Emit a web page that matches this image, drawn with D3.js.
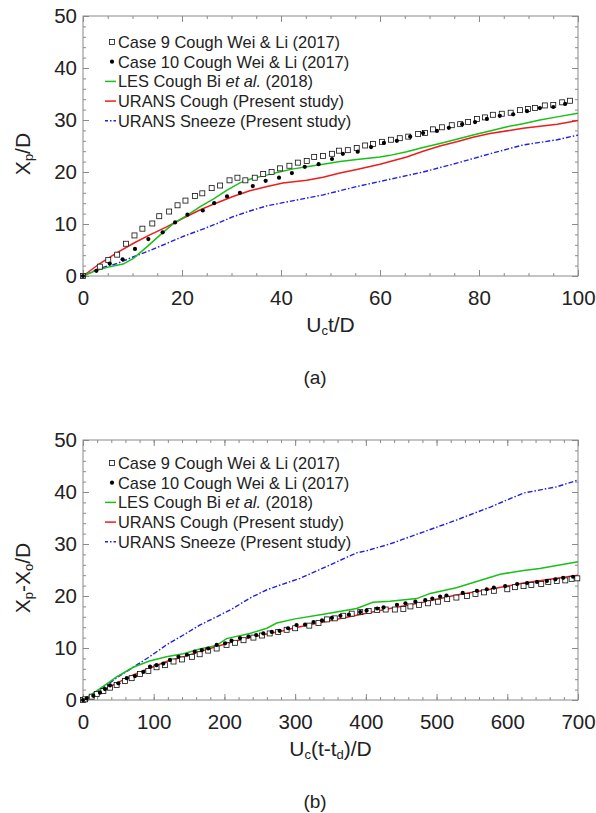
<!DOCTYPE html>
<html>
<head>
<meta charset="utf-8">
<script src="https://cdn.jsdelivr.net/npm/d3@7"></script>
<style>
  body { margin: 0; background: #fff; }
  svg { display: block; }
  text { font-family: 'Liberation Sans', Arial, sans-serif; fill: #222; }
</style>
</head>
<body>
<svg id="fig" width="596" height="813"></svg>
<script>
// ---- data ----
// (a) penetration distance vs Uc t / D
const caseA9 = [[0,0],[3.4,1.8],[5.1,3.1],[6.9,4.1],[8.7,6.2],[10.4,7.8],[12.0,9.1],[14.0,10.1],[15.4,11.5],[17.4,12.4],[19.1,13.6],[20.7,14.5],[22.6,15.4],[24.1,15.9],[26.0,16.9],[27.7,17.4],[29.6,18.4],[31.2,18.9],[32.8,18.4],[34.7,18.9],[36.4,19.6],[38.1,20.0],[39.8,20.7],[41.7,21.2],[43.4,21.8],[45.2,22.1],[46.7,22.9],[48.5,23.1],[50.3,23.5],[51.7,24.1],[53.5,24.2],[55.3,24.6],[57.0,25.1],[58.6,25.4],[60.4,25.8],[62.2,26.2],[64.0,26.5],[65.7,26.8],[67.7,27.3],[69.1,27.5],[70.7,28.2],[72.5,28.6],[74.5,29.0],[76.2,29.2],[77.8,29.6],[79.6,30.2],[81.2,30.5],[82.8,31.0],[84.6,31.2],[86.4,31.4],[88.3,31.9],[89.9,32.1],[91.3,32.3],[93.3,32.8],[95.0,32.9],[96.8,33.4],[98.4,33.7]];
const caseA10 = [[0,0],[2.7,1.0],[5.4,2.4],[8.0,3.2],[10.5,5.2],[13.2,7.1],[16.1,8.4],[18.6,10.3],[21.1,11.8],[24.2,12.6],[26.5,14.0],[29.1,15.3],[31.7,16.0],[34.3,17.3],[36.9,18.3],[39.6,18.9],[42.2,19.8],[44.8,21.0],[47.6,21.5],[50.3,22.5],[52.5,23.5],[55.5,23.9],[58.2,24.8],[60.8,25.6],[63.4,26.0],[66.1,26.8],[68.7,27.5],[71.5,27.9],[73.9,28.5],[76.6,29.2],[79.2,29.6],[81.6,30.2],[84.2,30.8],[86.9,31.1],[89.7,31.7],[92.3,32.3],[95.0,32.5],[97.4,33.1]];
const lesA = [[0,0],[2.5,1.0],[5.4,1.8],[8.1,2.3],[10.2,3.4],[12.9,5.6],[15.6,7.9],[18.3,10.1],[21.1,11.7],[23.6,13.3],[26.3,14.8],[29.1,16.5],[31.7,17.9],[34.3,18.8],[37.1,19.4],[39.2,19.9],[42.5,20.6],[45.2,21.0],[48.5,21.5],[51.9,22.0],[55.3,22.4],[60.0,22.9],[62.0,23.2],[65.4,23.9],[68.7,24.7],[72.1,25.5],[75.5,26.3],[78.8,27.1],[82.2,27.9],[85.7,28.7],[88.9,29.3],[92.3,30.0],[95.8,30.6],[100,31.3]];
const uransCoughA = [[0,0],[3.4,2.4],[6.9,4.5],[10.2,6.3],[13.5,7.9],[17.0,9.5],[20.2,11.1],[23.6,12.7],[27.1,14.1],[30.3,15.3],[33.7,16.4],[37.2,17.2],[40.4,17.9],[45.2,18.4],[48.5,19.0],[51.9,19.8],[55.3,20.5],[60.0,21.5],[65.4,22.9],[68.7,24.0],[72.1,25.0],[75.5,25.8],[78.8,26.7],[82.2,27.4],[88.9,28.4],[95.8,29.2],[100,29.9]];
const uransSneezeA = [[0,0],[3.4,1.5],[6.9,2.4],[10.2,3.7],[13.5,4.9],[17.0,6.3],[20.2,7.6],[23.6,8.8],[27.1,10.1],[30.3,11.4],[33.7,12.5],[37.2,13.5],[40.4,14.1],[48.5,15.6],[55.3,17.2],[62.0,18.6],[68.7,20.0],[75.5,21.7],[82.2,23.5],[88.9,25.2],[95.8,26.2],[100,27.1]];

// (b) Xp - Xo vs Uc (t - td) / D
const caseB9 = [[0,0],[3,0.13],[12.3,0.64],[19.4,1.15],[28.8,1.73],[38.2,2.37],[47.6,2.88],[59.4,3.65],[68.8,4.2],[80.6,5.0],[92.4,5.6],[104,6.3],[116,6.7],[128,7.4],[140,7.8],[154,8.3],[165,8.8],[177,9.5],[189,9.9],[203,10.6],[215,11.0],[227,11.5],[241,12.0],[253,12.4],[264,12.8],[276,13.1],[288,13.5],[300,13.8],[320,14.3],[333,14.8],[345,15.5],[356,15.7],[368,16.2],[380,16.6],[392,16.9],[404,17.1],[416,17.3],[428,17.4],[441,17.4],[453,17.5],[463,18.0],[475,18.3],[488,18.6],[502,18.9],[515,19.4],[528,19.7],[543,20.0],[555,20.4],[567,20.7],[581,21.0],[600,21.3],[611,21.7],[623,21.9],[634,22.1],[648,22.3],[658,22.7],[670,22.9],[682,23.0],[691,23.3],[699,23.4]];
const caseB10 = [[0,0],[5.2,0.3],[14.6,0.8],[24,1.4],[31.1,2.1],[38.2,2.8],[50,3.2],[61.8,4.2],[73.5,4.6],[85.3,5.4],[94.8,6.4],[104,6.7],[113.6,7.0],[123,7.7],[135,8.3],[147,8.7],[158,9.3],[168,9.6],[177,9.9],[189,10.6],[201,10.9],[210,11.4],[222,11.9],[234,12.2],[245,12.5],[255,12.8],[267,13.1],[278,13.3],[290,13.8],[302,14.4],[314,14.5],[326,15.0],[338,15.3],[352,15.8],[364,16.2],[376,16.4],[392,16.9],[401,17.2],[416,17.6],[425,17.8],[444,18.3],[456,18.6],[470,18.9],[484,19.2],[494,19.5],[505,19.9],[514,20.1],[537,20.6],[557,21.0],[571,21.3],[581,21.6],[597,21.9],[614,22.3],[628,22.5],[642,22.7],[656,22.9],[668,23.2],[679,23.5],[693,23.7]];
const lesB = [[0,0],[24,2.2],[47,4.4],[71,6.3],[94,7.5],[118,8.3],[142,8.9],[165,9.8],[189,10.5],[203,11.8],[236,12.8],[260,13.8],[274,14.8],[300,15.6],[340,16.5],[387,17.6],[410,18.8],[434,19.0],[472,19.5],[491,20.5],[528,21.6],[552,22.6],[590,24.2],[623,24.9],[646,25.3],[700,26.6]];
const uransCoughB = [[0,0],[24,1.6],[47,3.2],[71,4.8],[94,6.1],[118,7.4],[142,8.3],[165,9.3],[189,10.3],[212,11.2],[236,12.0],[260,12.7],[283,13.3],[300,13.9],[340,15.0],[387,16.3],[434,17.6],[481,18.8],[528,20.2],[576,21.3],[623,22.5],[670,23.4],[700,24.0]];
const uransSneezeB = [[0,0],[24,1.9],[47,4.2],[71,6.3],[94,8.3],[118,10.6],[142,12.5],[165,14.4],[189,16.0],[212,17.6],[236,19.6],[260,21.2],[283,22.3],[307,23.4],[340,25.4],[387,28.3],[401,28.7],[434,30.0],[481,32.3],[528,34.6],[576,37.1],[623,39.8],[670,41.0],[700,42.3]];

const legendLabels = [
  ['Case 9 Cough Wei & Li (2017)'],
  ['Case 10 Cough Wei & Li (2017)'],
  ['LES Cough Bi ', 'et al.', ' (2018)'],
  ['URANS Cough (Present study)'],
  ['URANS Sneeze (Present study)']
];
const xTicksA = [0, 20, 40, 60, 80, 100];
const xTicksB = [0, 100, 200, 300, 400, 500, 600, 700];
const yTicks = [0, 10, 20, 30, 40, 50];

const GREEN = '#18c018', RED = '#f01c1c', BLUE = '#1f1fe6';
const svg = d3.select('#fig');

function drawPanel(opt) {
  const left = 83, width = 495, height = 260, top = opt.top;
  const x = d3.scaleLinear().domain([0, opt.xMax]).range([left, left + width]);
  const y = d3.scaleLinear().domain([0, 50]).range([top + height, top]);
  const g = svg.append('g');

  // frame
  g.append('rect')
    .attr('x', left).attr('y', top).attr('width', width).attr('height', height)
    .attr('fill', 'none').attr('stroke', '#8a8a8a').attr('stroke-width', 1);

  // ticks on all four sides, pointing inward
  const minorX = d3.range(0, opt.xMax + 0.001, opt.xMinor);
  const minorY = d3.range(0, 50.001, 2);
  const tickLayer = (axis, tr) => {
    const a = g.append('g').attr('transform', tr).call(axis);
    a.select('.domain').remove();
    a.selectAll('line').attr('stroke', '#8a8a8a');
    return a;
  };
  tickLayer(d3.axisBottom(x).tickValues(minorX).tickSize(-3).tickFormat(''), `translate(0,${top + height})`);
  tickLayer(d3.axisTop(x).tickValues(minorX).tickSize(-3).tickFormat(''), `translate(0,${top})`);
  tickLayer(d3.axisLeft(y).tickValues(minorY).tickSize(-3).tickFormat(''), `translate(${left},0)`);
  tickLayer(d3.axisRight(y).tickValues(minorY).tickSize(-3).tickFormat(''), `translate(${left + width},0)`);
  tickLayer(d3.axisTop(x).tickValues(opt.xTicks).tickSize(-6).tickFormat(''), `translate(0,${top})`);
  tickLayer(d3.axisRight(y).tickValues(yTicks).tickSize(-6).tickFormat(''), `translate(${left + width},0)`);

  const xa = tickLayer(d3.axisBottom(x).tickValues(opt.xTicks).tickSize(-6).tickPadding(14), `translate(0,${top + height})`);
  xa.selectAll('text').attr('font-size', 20.5).attr('fill', '#222')
    .attr('font-family', "'Liberation Sans', Arial, sans-serif");
  const ya = tickLayer(d3.axisLeft(y).tickValues(yTicks).tickSize(-6).tickPadding(6), `translate(${left},0)`);
  ya.selectAll('text').attr('font-size', 20.5).attr('fill', '#222')
    .attr('font-family', "'Liberation Sans', Arial, sans-serif");

  const line = d3.line().x(d => x(d[0])).y(d => y(d[1]));
  g.append('path').datum(opt.sneeze).attr('d', line).attr('fill', 'none')
    .attr('stroke', BLUE).attr('stroke-width', 1.4).attr('stroke-dasharray', '5,2,1.5,2');
  g.append('path').datum(opt.cough).attr('d', line).attr('fill', 'none')
    .attr('stroke', RED).attr('stroke-width', 1.5);
  g.append('path').datum(opt.les).attr('d', line).attr('fill', 'none')
    .attr('stroke', GREEN).attr('stroke-width', 1.5);

  g.selectAll('rect.c9').data(opt.c9).join('rect').attr('class', 'c9')
    .attr('x', d => x(d[0]) - 2.5).attr('y', d => y(d[1]) - 2.5)
    .attr('width', 5).attr('height', 5)
    .attr('fill', '#fff').attr('stroke', '#111').attr('stroke-width', 0.8);
  g.selectAll('circle.c10').data(opt.c10).join('circle').attr('class', 'c10')
    .attr('cx', d => x(d[0])).attr('cy', d => y(d[1])).attr('r', 2.1)
    .attr('fill', '#000');

  // legend
  const lg = g.append('g').attr('transform', `translate(0,${top + opt.legendOffset})`);
  legendLabels.forEach((parts, i) => {
    const cy = i * 19.7;
    if (i === 0) {
      lg.append('rect').attr('x', 109.5).attr('y', cy - 2.5).attr('width', 5).attr('height', 5)
        .attr('fill', '#fff').attr('stroke', '#111').attr('stroke-width', 0.8);
    } else if (i === 1) {
      lg.append('circle').attr('cx', 112).attr('cy', cy).attr('r', 2.1).attr('fill', '#000');
    } else {
      const col = [GREEN, RED, BLUE][i - 2];
      lg.append('line').attr('x1', 105).attr('x2', 116).attr('y1', cy).attr('y2', cy)
        .attr('stroke', col).attr('stroke-width', 1.5)
        .attr('stroke-dasharray', i === 4 ? '3,2,1.5,2' : null);
    }
    const t = lg.append('text').attr('x', 118).attr('y', cy).attr('dy', '0.36em')
      .attr('font-size', 16.4);
    parts.forEach((p, j) => {
      t.append('tspan').text(p).attr('font-style', j === 1 ? 'italic' : null);
    });
  });

  // axis labels with subscripts
  const yl = g.append('text')
    .attr('transform', `translate(30,${top + height / 2 + 8}) rotate(-90)`)
    .attr('text-anchor', 'middle').attr('font-size', 21);
  opt.yLabel.forEach(([s, sub]) => {
    yl.append('tspan').text(s).attr('font-size', sub ? 13 : 21)
      .attr('baseline-shift', sub ? '-22%' : null);
  });
  const xl = g.append('text')
    .attr('x', left + width / 2).attr('y', top + height + 56)
    .attr('text-anchor', 'middle').attr('font-size', 21);
  opt.xLabel.forEach(([s, sub]) => {
    xl.append('tspan').text(s).attr('font-size', sub ? 13 : 21)
      .attr('baseline-shift', sub ? '-22%' : null);
  });
  g.append('text').attr('x', 315).attr('y', top + height + 108)
    .attr('text-anchor', 'middle').attr('font-size', 19)
    .attr('font-family', "'DejaVu Serif', 'Liberation Serif', serif")
    .text(opt.tag);
}

drawPanel({
  top: 16, xMax: 100, xMinor: 5, xTicks: xTicksA, legendOffset: 26,
  c9: caseA9, c10: caseA10, les: lesA, cough: uransCoughA, sneeze: uransSneezeA,
  yLabel: [['X'], ['p', true], ['/D']],
  xLabel: [['U'], ['c', true], ['t/D']],
  tag: '(a)'
});
drawPanel({
  top: 440, xMax: 700, xMinor: 20, xTicks: xTicksB, legendOffset: 23,
  c9: caseB9, c10: caseB10, les: lesB, cough: uransCoughB, sneeze: uransSneezeB,
  yLabel: [['X'], ['p', true], ['-X'], ['o', true], ['/D']],
  xLabel: [['U'], ['c', true], ['(t-t'], ['d', true], [')/D']],
  tag: '(b)'
});
</script>
</body>
</html>
